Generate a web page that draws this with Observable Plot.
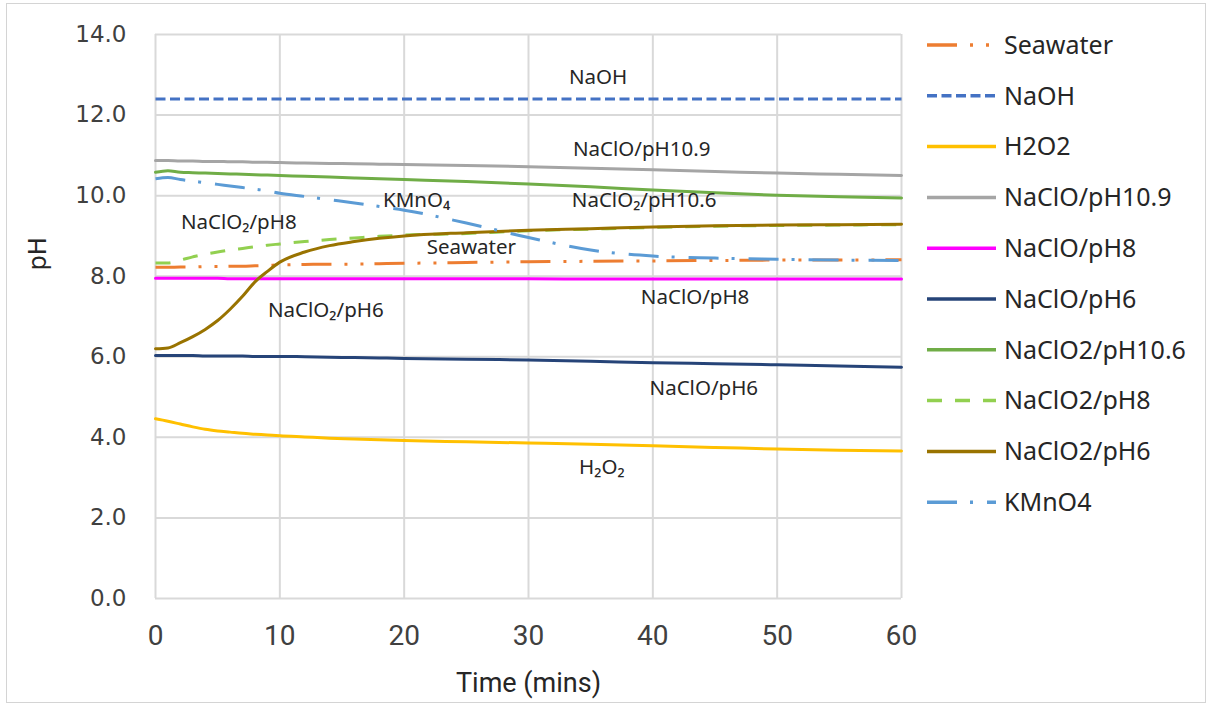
<!DOCTYPE html>
<html>
<head>
<meta charset="utf-8">
<script src="https://cdn.jsdelivr.net/npm/d3@7"></script>
<script src="https://cdn.jsdelivr.net/npm/@observablehq/plot@0.6"></script>
<style>
  html, body { margin: 0; padding: 0; background: #fff; }
  #wrap { position: relative; width: 1211px; height: 708px; overflow: hidden; background: #fff; }
  #frame { position: absolute; left: 6px; top: 3px; width: 1200px; height: 700px; border: 1px solid #d4d4d4; box-sizing: border-box; }
  #chart { position: absolute; left: 0; top: 0; }
  #legend { position: absolute; left: 0; top: 0; }
  g[aria-label="y-axis tick label"] text { font-family: "DejaVu Sans", sans-serif; font-size: 23px; }
  g[aria-label="x-axis tick label"] text { font-family: Roboto, "Liberation Sans", sans-serif; font-size: 28px; }
</style>
</head>
<body>
<div id="wrap"><div id="frame"></div><div id="chart"></div><div id="legend"></div></div>
<script>
// ---- data ----
const time = [0,1,2,3,4,5,6,7,8,9,10,12,14,16,18,20,25,30,35,40,45,50,55,60];
const seawater   = [8.22,8.22,8.23,8.23,8.24,8.24,8.25,8.25,8.26,8.27,8.28,8.29,8.30,8.30,8.31,8.32,8.34,8.36,8.37,8.38,8.39,8.40,8.40,8.41];
const naoh       = [12.40,12.40,12.40,12.40,12.40,12.40,12.40,12.40,12.40,12.40,12.40,12.40,12.40,12.40,12.40,12.40,12.40,12.40,12.40,12.40,12.40,12.40,12.40,12.40];
const h2o2       = [4.46,4.40,4.33,4.26,4.20,4.16,4.13,4.10,4.08,4.06,4.04,4.01,3.98,3.96,3.94,3.92,3.89,3.86,3.83,3.79,3.75,3.71,3.68,3.66];
const naclo109   = [10.87,10.87,10.86,10.86,10.85,10.85,10.84,10.84,10.83,10.83,10.82,10.81,10.80,10.79,10.78,10.77,10.75,10.72,10.68,10.64,10.60,10.56,10.53,10.50];
const naclo8     = [7.95,7.95,7.95,7.95,7.95,7.95,7.94,7.94,7.94,7.94,7.94,7.94,7.94,7.94,7.94,7.94,7.94,7.94,7.93,7.93,7.93,7.93,7.93,7.93];
const naclo6     = [6.03,6.03,6.03,6.03,6.02,6.02,6.02,6.02,6.01,6.01,6.01,6.00,5.99,5.98,5.97,5.96,5.94,5.92,5.89,5.85,5.83,5.80,5.77,5.74];
const naclo2_106 = [10.58,10.62,10.58,10.57,10.56,10.55,10.54,10.53,10.52,10.51,10.50,10.48,10.46,10.44,10.42,10.40,10.35,10.29,10.22,10.14,10.07,10.01,9.97,9.94];
const naclo2_8   = [8.33,8.33,8.40,8.48,8.55,8.60,8.65,8.69,8.73,8.77,8.80,8.86,8.91,8.95,8.99,9.02,9.06,9.13,9.17,9.21,9.24,9.26,9.27,9.28];
const naclo2_6   = [6.20,6.22,6.35,6.50,6.68,6.90,7.18,7.50,7.86,8.12,8.35,8.60,8.76,8.86,8.94,9.00,9.08,9.14,9.18,9.22,9.25,9.27,9.28,9.29];
const kmno4      = [10.42,10.45,10.40,10.36,10.32,10.28,10.24,10.20,10.16,10.12,10.06,9.98,9.90,9.82,9.73,9.64,9.32,8.96,8.65,8.50,8.45,8.42,8.40,8.39];

const seriesNames  = ["Seawater","NaOH","H2O2","NaClO/pH10.9","NaClO/pH8","NaClO/pH6","NaClO2/pH10.6","NaClO2/pH8","NaClO2/pH6","KMnO4"];
const seriesValues = [seawater, naoh, h2o2, naclo109, naclo8, naclo6, naclo2_106, naclo2_8, naclo2_6, kmno4];

const xTicks = [0,10,20,30,40,50,60];
const yTicks = [0,2,4,6,8,10,12,14];

// in-plot annotations (label text, time, pH)
const labelTexts = ["NaOH","NaClO/pH10.9","NaClO\u2082/pH10.6","KMnO\u2084","NaClO\u2082/pH8","Seawater","NaClO/pH8","NaClO\u2082/pH6","NaClO/pH6","H\u2082O\u2082"];
const labelTimes = [35.6, 39.1, 39.3, 21.0, 6.7, 25.4, 43.4, 13.7, 44.1, 35.9];
const labelPH    = [12.93, 11.14, 9.88, 9.88, 9.33, 8.71, 7.47, 7.15, 5.21, 3.25];

// ---- styles ----
const colors = ["#ED7D31","#4472C4","#FFC000","#A5A5A5","#FF00FF","#264478","#70AD47","#92D050","#997300","#5B9BD5"];
const dashes = ["30,13,3,13,3,11","10,4.5",null,null,null,null,null,"15,13",null,"30,13,3,14"];

// ---- build rows ----
const rows = seriesNames.map((name, k) => time.map((t, i) => ({series: name, t, v: seriesValues[k][i]})));
const labels = labelTexts.map((s, i) => ({s, t: labelTimes[i], v: labelPH[i]}));

const lineMarks = rows.map((r, k) => Plot.line(r, {
  x: "t", y: "v", stroke: colors[k], strokeWidth: 3,
  strokeDasharray: dashes[k] || undefined,
  strokeLinecap: dashes[k] ? "butt" : "round",
  curve: "monotone-x"
}));

const chart = Plot.plot({
  width: 915, height: 708,
  marginLeft: 155, marginRight: 14, marginTop: 34, marginBottom: 110,
  style: {fontFamily: "'Noto Sans', sans-serif", color: "#404040", background: "transparent", overflow: "visible"},
  x: {domain: [0, 60]},
  y: {domain: [0, 14]},
  marks: [
    Plot.gridX(xTicks, {stroke: "#d9d9d9", strokeOpacity: 1, strokeWidth: 2}),
    Plot.gridY(yTicks, {stroke: "#d9d9d9", strokeOpacity: 1, strokeWidth: 2}),
    Plot.axisX(xTicks, {tickSize: 0, tickPadding: 27, label: null, fontSize: 28, fill: "#404040"}),
    Plot.axisY(yTicks, {tickSize: 0, tickPadding: 29, label: null, tickFormat: d => d.toFixed(1), fontSize: 23, fill: "#404040"}),
    ...lineMarks,
    Plot.text(labels, {x: "t", y: "v", text: "s", fontSize: 20.5, fill: "#262626", textAnchor: "middle", lineAnchor: "middle"}),
    Plot.text(["Time (mins)"], {frameAnchor: "bottom", dy: 85, lineAnchor: "middle", fontSize: 27, fill: "#262626", fontFamily: "Roboto, sans-serif"}),
    Plot.text(["pH"], {frameAnchor: "left", dx: -117, dy: -46, rotate: -90, lineAnchor: "middle", fontSize: 24, fill: "#262626", fontFamily: "'DejaVu Sans', sans-serif"})
  ]
});
document.getElementById("chart").appendChild(chart);

// ---- legend ----
const lg = d3.select("#legend").append("svg").attr("width", 1211).attr("height", 708);
const items = lg.selectAll("g").data(seriesNames).join("g")
  .attr("transform", (d, i) => `translate(927, ${45 + i * 50.8})`);
items.append("line")
  .attr("x1", 0).attr("x2", 69).attr("y1", 0).attr("y2", 0)
  .attr("stroke", (d, i) => colors[i]).attr("stroke-width", 3.5)
  .attr("stroke-dasharray", (d, i) => dashes[i])
  .attr("stroke-linecap", "butt");
items.append("text")
  .attr("x", 77).attr("y", 0).attr("dy", "0.35em")
  .attr("font-family", "'Noto Sans', sans-serif").attr("font-size", 25).attr("fill", "#262626")
  .text(d => d);
</script>
</body>
</html>
